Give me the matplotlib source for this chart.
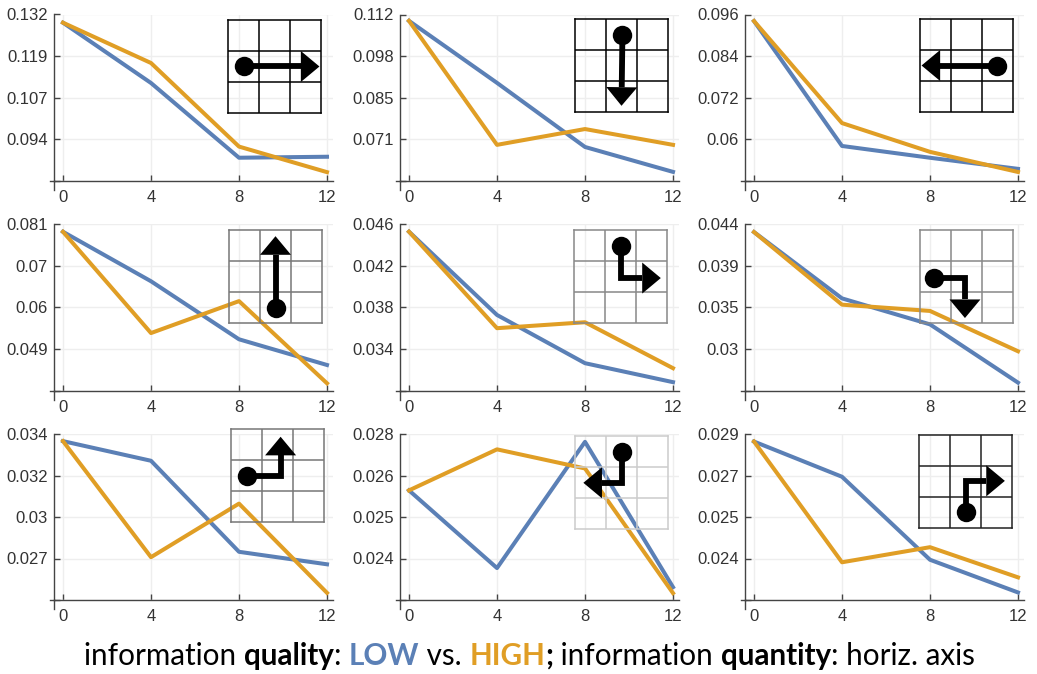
import matplotlib
matplotlib.use('Agg')
import matplotlib.pyplot as plt
import numpy as np

W, H = 1037, 674

steps = [0, 4, 8, 12]

# values, one pair of lists per panel
low = [
    [0.1295, 0.1111, 0.0883, 0.0886],
    [0.1099, 0.0895, 0.0684, 0.0602],
    [0.0941, 0.0581, 0.0547, 0.0515],
    [0.0790, 0.0663, 0.0514, 0.0448],
    [0.04526, 0.03727, 0.03264, 0.03082],
    [0.0431, 0.0357, 0.0328, 0.0263],
    [0.0336, 0.0325, 0.0274, 0.0267],
    [0.0262, 0.02372, 0.02775, 0.02311],
    [0.0287, 0.0273, 0.0240, 0.0227],
]
high = [
    [0.1295, 0.1172, 0.0917, 0.0839],
    [0.1099, 0.0691, 0.0743, 0.0691],
    [0.0941, 0.0647, 0.0564, 0.0506],
    [0.0790, 0.0530, 0.0612, 0.0401],
    [0.04526, 0.0360, 0.03657, 0.03216],
    [0.0431, 0.0350, 0.0343, 0.0298],
    [0.0336, 0.0271, 0.0301, 0.0251],
    [0.0262, 0.02751, 0.0269, 0.02292],
    [0.0287, 0.0239, 0.0245, 0.0233],
]

ytick_labels = [
    ['0.132', '0.119', '0.107', '0.094'],
    ['0.112', '0.098', '0.085', '0.071'],
    ['0.096', '0.084', '0.072', '0.06'],
    ['0.081', '0.07', '0.06', '0.049'],
    ['0.046', '0.042', '0.038', '0.034'],
    ['0.044', '0.039', '0.035', '0.03'],
    ['0.034', '0.032', '0.03', '0.027'],
    ['0.028', '0.026', '0.025', '0.024'],
    ['0.029', '0.027', '0.025', '0.024'],
]
ytop = [0.132, 0.112, 0.096, 0.081, 0.046, 0.044, 0.034, 0.028, 0.029]
ybottom = [0.0812, 0.0572, 0.048, 0.0382, 0.030, 0.0254, 0.0247, 0.0227, 0.0224]

# paths inside the 3x3 grids (x right, y down), first point is the dot
paths = [
    [(0.5, 1.5), (2.95, 1.5)],
    [(1.53, 0.5), (1.5, 2.8)],
    [(2.5, 1.5), (0.05, 1.5)],
    [(1.5, 2.5), (1.5, 0.2)],
    [(1.52, 0.51), (1.52, 1.55), (2.8, 1.55)],
    [(0.45, 1.55), (1.45, 1.55), (1.45, 2.84)],
    [(0.5, 1.5), (1.6, 1.5), (1.6, 0.25)],
    [(1.51, 0.51), (1.51, 1.51), (0.27, 1.51)],
    [(1.5, 2.48), (1.5, 1.48), (2.77, 1.48)],
]
grid_colors = ['black', 'black', 'black', '#777777', '#888888', '#888888', '#777777', '#cccccc', '#222222']
grid_left = [228, 575, 920, 229, 574, 920, 231, 575, 919]
grid_top = [20, 19, 19, 230, 230, 230, 429, 436, 435]

BLUE = '#5b80b6'
ORANGE = '#e09e25'
SPINE = '#444444'

col_left = [54, 400, 745]
row_top = [14.5, 224, 434]
row_bottom = [181, 390.7, 600]
AX_W = 279
PX_UNIT = 22  # pixels per x unit
ZERO = 9  # pixels from the spine to x=0

plt.rcParams['font.family'] = ['Liberation Sans', 'DejaVu Sans']
fig = plt.figure(figsize=(W / 100, H / 100), dpi=100)


def px_axes(x0, ytop_px, w, h):
    return fig.add_axes([x0 / W, 1 - (ytop_px + h) / H, w / W, h / H])


def draw_inset(i):
    ins = px_axes(grid_left[i], grid_top[i], 93, 93)
    ins.patch.set_visible(False)
    ins.set_xlim(0, 3)
    ins.set_ylim(3, 0)
    ins.set_xticks([1, 2])
    ins.set_yticks([1, 2])
    ins.tick_params(length=0, labelbottom=False, labelleft=False)
    ins.grid(color=grid_colors[i], lw=1.1)
    for s in ins.spines.values():
        s.set_color(grid_colors[i])
        s.set_linewidth(1.1)
    ins.set_axisbelow(True)

    pts = np.array(paths[i], dtype=float)
    tip = pts[-1]
    d = tip - pts[-2]
    d = d / np.hypot(*d)
    n = np.array([-d[1], d[0]])
    base = tip - d * 0.6
    line = np.vstack([pts[:-1], base])
    ins.plot(line[:, 0], line[:, 1], color='black', lw=4.2, solid_joinstyle='miter',
             solid_capstyle='butt', zorder=3, clip_on=False)
    head = np.array([tip, base + n * 0.5, base - n * 0.5])
    ins.fill(head[:, 0], head[:, 1], color='black', lw=0, zorder=4, clip_on=False)
    ins.plot(pts[0][0], pts[0][1], 'o', color='black', ms=14, mew=0, zorder=4, clip_on=False)


for i in range(9):
    r, c = divmod(i, 3)
    h = row_bottom[r] - row_top[r]
    ax = px_axes(col_left[c], row_top[r], AX_W, h)
    ax.patch.set_visible(False)
    ax.plot(steps, low[i], color=BLUE, lw=2.9, clip_on=False, zorder=3)
    ax.plot(steps, high[i], color=ORANGE, lw=2.9, clip_on=False, zorder=3)

    ax.set_xlim(-ZERO / PX_UNIT, (AX_W - ZERO) / PX_UNIT)
    ax.set_ylim(ybottom[i], ytop[i])
    ax.set_xticks(steps)
    ax.set_xticklabels([str(s) for s in steps])
    ax.set_yticks(np.linspace(ytop[i], ybottom[i], 5))
    ax.set_yticklabels(ytick_labels[i] + [''])
    ax.tick_params(axis='both', direction='in', length=4.5, width=1, color=SPINE,
                   labelcolor='#333333', labelsize=12)
    ax.tick_params(axis='x', pad=6.5)
    ax.tick_params(axis='y', pad=4.5)
    ax.grid(color='#eeeeee', lw=1)
    ax.set_axisbelow(True)

    ax.spines[['top', 'right']].set_visible(False)
    ax.spines[['left', 'bottom']].set_color(SPINE)
    ax.spines[['left', 'bottom']].set_linewidth(1)
    # the two axis lines cross and stick out a little at the corner
    ax.plot([0, 0], [0, -9 / h], transform=ax.transAxes, color=SPINE, lw=1, clip_on=False)
    ax.plot([0, -4 / AX_W], [0, 0], transform=ax.transAxes, color=SPINE, lw=1, clip_on=False)

    draw_inset(i)

# caption built from coloured runs, placed one after the other
runs = [
    ('information ', 'normal', 'black'),
    ('quality', 'bold', 'black'),
    (': ', 'normal', 'black'),
    ('LOW', 'bold', BLUE),
    (' vs. ', 'normal', 'black'),
    ('HIGH', 'bold', ORANGE),
    (';', 'bold', 'black'),
    (' information ', 'normal', 'black'),
    ('quantity', 'bold', 'black'),
    (': horiz. axis', 'normal', 'black'),
]
CAP_SIZE = 21.3
renderer = fig.canvas.get_renderer()


def run_width(s, weight):
    # bars around the text so that edge spaces are counted
    t = fig.text(0, 0, '|' + s + '|', fontsize=CAP_SIZE, fontweight=weight, family='Lato')
    b = fig.text(0, 0, '||', fontsize=CAP_SIZE, fontweight=weight, family='Lato')
    w = t.get_window_extent(renderer).width - b.get_window_extent(renderer).width
    t.remove()
    b.remove()
    return w


x = 84
for s, weight, color in runs:
    fig.text(x / W, 1 - 665 / H, s, fontsize=CAP_SIZE, fontweight=weight, color=color,
             family='Lato', va='baseline', ha='left')
    x += run_width(s, weight)

fig.savefig('out.png', dpi=100)
